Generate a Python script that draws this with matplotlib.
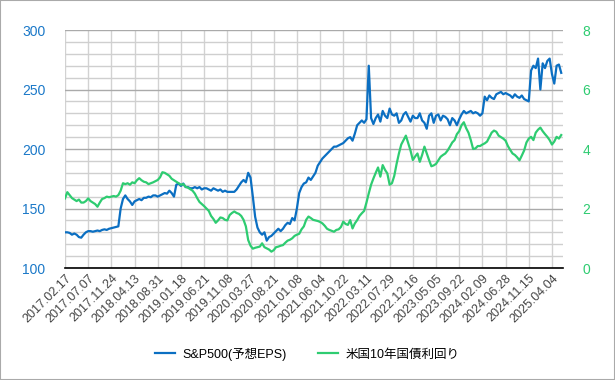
import numpy as np
import matplotlib.pyplot as plt
from matplotlib.ticker import MultipleLocator

plt.rcParams['font.family'] = ['Liberation Sans', 'Noto Sans CJK JP']

# tick labels, one per 20 weekly observations
date_labels = ['2017.02.17', '2017.07.07', '2017.11.24', '2018.04.13', '2018.08.31',
               '2019.01.18', '2019.06.21', '2019.11.08', '2020.03.27', '2020.08.21',
               '2021.01.08', '2021.06.04', '2021.10.22', '2022.03.11', '2022.07.29',
               '2022.12.16', '2023.05.05', '2023.09.22', '2024.02.09', '2024.06.28',
               '2024.11.15', '2025.04.04']

# S&P500 forward EPS, read every second week
eps = [130, 130, 129.5, 128, 129, 128, 126, 125.5, 128, 130,
       131, 131, 130.5, 131, 131.5, 131, 132, 132.5, 132, 133,
       133.5, 134, 134.5, 135, 150, 158, 161, 158, 156, 153,
       156, 157, 158, 157, 159, 159, 160, 159.5, 161, 161,
       160, 161, 162, 163, 162.5, 165, 163, 160, 170, 171,
       169, 171, 168, 168, 167, 167, 168, 167, 168, 166,
       167, 167, 166, 165, 167, 166, 165, 166, 164, 165,
       164, 164, 164, 164, 166, 169, 172, 174, 172, 180,
       176, 160, 143, 134, 130, 128, 130, 123, 126, 127,
       129, 131, 133, 131, 133, 136, 138, 137, 142, 140,
       150, 163, 168, 171, 172, 176, 174, 177, 180, 186,
       189, 192, 194, 196, 198, 200, 202, 202, 203, 204,
       205, 207, 209, 210, 207, 213, 220, 222, 224, 222,
       225, 270, 226, 221, 226, 229, 223, 232, 228, 226,
       234, 229, 228, 230, 222, 224, 229, 231, 227, 223,
       228, 226, 226, 230, 224, 222, 217, 228, 230, 222,
       228, 229, 224, 228, 227, 225, 220, 226, 224, 220,
       225, 229, 232, 230, 231, 232, 230, 231, 230, 228,
       230, 244, 241, 245, 243, 242, 246, 247, 248, 246,
       247, 246, 245, 243, 246, 244, 243, 245, 242, 241,
       240, 266, 270, 268, 276, 250, 272, 268, 274, 276,
       263, 255, 270, 271, 264]

# US 10-year treasury yield (%), same weeks
yield10 = [2.34, 2.55, 2.45, 2.35, 2.3, 2.25, 2.3, 2.2, 2.2, 2.25,
           2.34, 2.25, 2.2, 2.15, 2.06, 2.2, 2.32, 2.35, 2.4, 2.38,
           2.4, 2.42, 2.4, 2.45, 2.6, 2.85, 2.82, 2.85, 2.8, 2.88,
           2.85, 2.95, 3.02, 2.95, 2.9, 2.88, 2.82, 2.85, 2.88, 2.92,
           2.96, 3.05, 3.22, 3.2, 3.15, 3.1, 3.0, 2.95, 2.9, 2.85,
           2.8, 2.82, 2.73, 2.7, 2.65, 2.6, 2.5, 2.35, 2.22, 2.15,
           2.08, 2.0, 1.92, 1.75, 1.65, 1.52, 1.6, 1.7, 1.68, 1.62,
           1.6, 1.78, 1.85, 1.9, 1.85, 1.82, 1.75, 1.62, 1.4, 0.94,
           0.75, 0.65, 0.68, 0.7, 0.72, 0.83, 0.7, 0.66, 0.62, 0.55,
           0.6, 0.7, 0.72, 0.75, 0.77, 0.85, 0.92, 0.95, 1.0, 1.08,
           1.12, 1.15, 1.3, 1.4, 1.62, 1.73, 1.68, 1.62, 1.6, 1.58,
           1.55, 1.5, 1.42, 1.32, 1.28, 1.25, 1.22, 1.28, 1.3, 1.38,
           1.56, 1.48, 1.45, 1.61, 1.33, 1.5, 1.61, 1.75, 1.84, 1.92,
           2.2, 2.51, 2.8, 3.01, 3.2, 3.38, 3.07, 3.46, 3.3, 3.18,
           2.8, 2.85, 3.1, 3.5, 3.85, 4.15, 4.3, 4.45, 4.2, 3.95,
           3.63, 3.75, 3.85, 3.57, 3.8, 4.08, 3.85, 3.63, 3.42, 3.45,
           3.5, 3.62, 3.74, 3.8, 3.85, 3.95, 4.08, 4.22, 4.3, 4.5,
           4.6, 4.8, 4.9, 4.7, 4.55, 4.3, 4.0, 4.02, 4.1, 4.1,
           4.15, 4.19, 4.25, 4.4, 4.55, 4.62, 4.58, 4.45, 4.4, 4.35,
           4.28, 4.1, 3.97, 3.85, 3.8, 3.72, 3.62, 3.78, 3.95, 4.22,
           4.35, 4.41, 4.3, 4.55, 4.65, 4.72, 4.6, 4.5, 4.41, 4.3,
           4.15, 4.25, 4.41, 4.35, 4.47]

blue = '#0b6fc2'
green = '#2ecc71'

x = np.arange(len(eps)) * 2

fig = plt.figure(figsize=(6.15, 3.8), dpi=100)
fig.patches.append(plt.Rectangle((0, 0), 1, 1, transform=fig.transFigure,
                                 fill=False, edgecolor='#aaaaaa', linewidth=1.5))
ax = fig.add_axes([0.1057, 0.2947, 0.8097, 0.6263])
ax2 = ax.twinx()

ax.plot(x, eps, color=blue, linewidth=1.6, label='S&P500(予想EPS)', zorder=3)
ax2.plot(x, yield10, color=green, linewidth=1.6, label='米国10年国債利回り', zorder=3)

ax.set_xlim(0, 429.5)
ax.set_ylim(100, 300)
ax2.set_ylim(0, 8)
ax.yaxis.set_major_locator(MultipleLocator(50))
ax.yaxis.set_minor_locator(MultipleLocator(10))
ax2.yaxis.set_major_locator(MultipleLocator(2))
ax.set_xticks(np.arange(len(date_labels)) * 20)
ax.set_xticklabels(date_labels, rotation=45, ha='right', rotation_mode='anchor',
                   fontsize=9, color='#444444')

# grid: light lines every 10, darker every 50, light verticals at date ticks
ax.set_axisbelow(True)
ax.grid(True, which='minor', axis='y', color='#cfcfcf', linewidth=1.0)
ax.grid(True, which='major', axis='y', color='#aaaaaa', linewidth=1.0)
ax.grid(True, which='major', axis='x', color='#d2d2d2', linewidth=1.0)

for a in (ax, ax2):
    for s in ('top', 'left', 'right', 'bottom'):
        a.spines[s].set_visible(False)
ax.spines['bottom'].set_visible(True)
ax.spines['bottom'].set_color('black')
ax.spines['bottom'].set_linewidth(1.2)

ax.tick_params(axis='y', which='both', length=0)
ax.tick_params(axis='y', which='major', labelsize=10, labelcolor='#1a78c8', pad=14)
ax.tick_params(axis='x', length=0, pad=3)
ax2.tick_params(axis='y', length=0, labelsize=10, labelcolor=green, pad=14)

h1, l1 = ax.get_legend_handles_labels()
h2, l2 = ax2.get_legend_handles_labels()
fig.legend(h1 + h2, l1 + l2, loc='center', bbox_to_anchor=(0.5, 0.068), ncol=2,
           frameon=False, fontsize=9, handlelength=1.6, columnspacing=2.5,
           handletextpad=0.6)

fig.savefig('out.png', dpi=100)
